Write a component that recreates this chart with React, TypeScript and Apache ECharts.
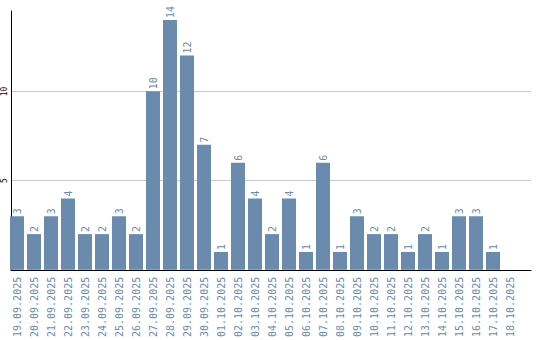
import React, { useEffect, useRef } from "react";
import * as echarts from "echarts";

const categories = [
  "19.09.2025", "20.09.2025", "21.09.2025", "22.09.2025", "23.09.2025",
  "24.09.2025", "25.09.2025", "26.09.2025", "27.09.2025", "28.09.2025",
  "29.09.2025", "30.09.2025", "01.10.2025", "02.10.2025", "03.10.2025",
  "04.10.2025", "05.10.2025", "06.10.2025", "07.10.2025", "08.10.2025",
  "09.10.2025", "10.10.2025", "11.10.2025", "12.10.2025", "13.10.2025",
  "14.10.2025", "15.10.2025", "16.10.2025", "17.10.2025", "18.10.2025",
];
const values: (number | null)[] = [
  3, 2, 3, 4, 2, 2, 3, 2, 10, 14,
  12, 7, 1, 6, 4, 2, 4, 1, 6, 1,
  3, 2, 2, 1, 2, 1, 3, 3, 1, null,
];
const yTicks = [5, 10];
const yMax = 14.5;

const BAR = "#6a8bad";
const FONT = "DejaVu Sans Mono";

export default function App() {
  const ref = useRef<HTMLDivElement>(null);
  useEffect(() => {
    if (!ref.current) return;
    const chart = echarts.init(ref.current, undefined, { renderer: "svg" });
    chart.setOption({
      animation: false,
      grid: [
        { left: 10, right: 9, top: 11, bottom: 70, containLabel: false },
        { left: 8.5, width: 510, top: 11, bottom: 70, containLabel: false },
      ],
      xAxis: [
        {
          gridIndex: 0,
          type: "value",
          min: 0,
          max: 1,
          axisLine: { show: true, lineStyle: { color: "#000", width: 1 } },
          axisTick: { show: false },
          axisLabel: { show: false },
          splitLine: { show: false },
        },
        {
          gridIndex: 1,
          type: "category",
          data: categories,
          axisLine: { show: false },
          axisTick: { show: false },
          axisLabel: {
            rotate: 90,
            margin: 7,
            interval: 0,
            color: BAR,
            fontFamily: FONT,
            fontSize: 10,
          },
        },
      ],
      yAxis: [
        {
          gridIndex: 0,
          type: "value",
          min: 0,
          max: yMax,
          interval: 5,
          axisLine: { show: true, lineStyle: { color: "#000", width: 1 } },
          axisTick: { show: false },
          axisLabel: {
            rotate: 90,
            margin: 3,
            color: "#000",
            fontFamily: FONT,
            fontSize: 8,
            formatter: (v: number) => (yTicks.includes(v) ? String(v) : ""),
          },
          splitLine: {
            show: true,
            lineStyle: {
              color: ["rgba(0,0,0,0)", "#c8c8c8", "#c8c8c8", "rgba(0,0,0,0)"],
              width: 1,
            },
          },
        },
        {
          gridIndex: 1,
          type: "value",
          min: 0,
          max: yMax,
          show: false,
          splitLine: { show: false },
        },
      ],
      series: [
        {
          type: "bar",
          xAxisIndex: 1,
          yAxisIndex: 1,
          data: values,
          barWidth: 14,
          itemStyle: { color: BAR },
          label: {
            show: true,
            position: "top",
            rotate: 90,
            align: "left",
            verticalAlign: "middle",
            distance: 2,
            color: BAR,
            fontFamily: FONT,
            fontSize: 10,
          },
        },
      ],
    });
    return () => chart.dispose();
  }, []);
  return <div ref={ref} style={{ width: 540, height: 340, position: "absolute", left: 0, top: 0 }} />;
}
